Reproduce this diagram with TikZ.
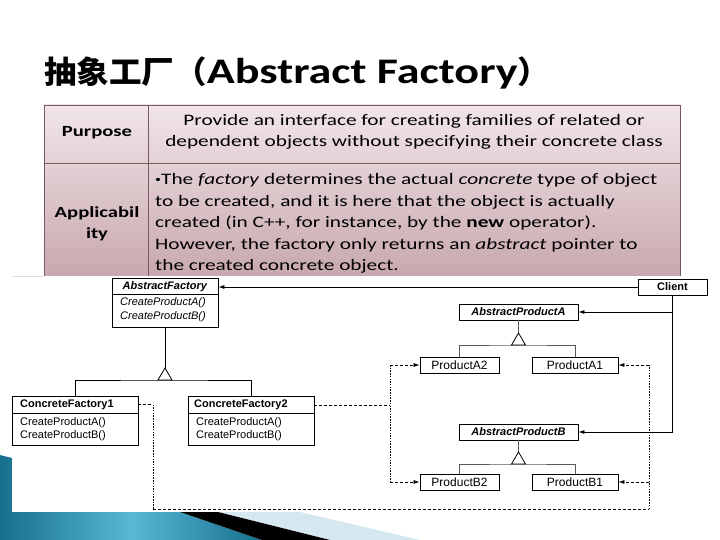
\documentclass[tikz,border=0pt]{standalone}
\usepackage{fontspec}
\setmainfont{Carlito}[FakeStretch=1.33,Ligatures={TeX,NoCommon}]
\newfontfamily\titlefont{Carlito}[FakeStretch=1.28,Ligatures={TeX,NoCommon}]
\newfontfamily\cjk{Noto Sans CJK SC}[FakeStretch=1.05]
\newfontfamily\umlfont{Liberation Sans}
\usetikzlibrary{arrows.meta}
\definecolor{tabtop}{HTML}{F1E6E8}
\definecolor{tabbot}{HTML}{C8A8AF}
\definecolor{tabline}{HTML}{7A5A62}
\definecolor{decodark}{HTML}{16708E}
\definecolor{decolight}{HTML}{58B8D6}
\definecolor{decopale}{HTML}{D5E8EF}

\begin{document}
\begin{tikzpicture}[x=1pt,y=-1pt,
  >={Latex[length=6pt,width=4pt]},
  cls/.style={draw,line width=0.9pt,fill=white,inner sep=0pt},
  txt/.style={font=\umlfont\fontsize{11}{12}\selectfont,inner sep=0pt},
  prod/.style={font=\umlfont\fontsize{12}{12}\selectfont},
  gen/.style={line width=0.8pt},
  dep/.style={dash pattern=on 3pt off 2pt,line width=0.7pt},
  col/.style={dash pattern=on 1.5pt off 1.2pt,line width=0.8pt},
  cell/.style={font=\fontsize{16}{21.5}\selectfont,inner sep=0pt}]
\useasboundingbox (0,0) rectangle (720,540);

%folija
\shade[left color=decodark,right color=decodark,middle color=decolight]
  (0,455) -- (12,458) -- (12,512) -- (180,512) -- (262,540) -- (0,540) -- cycle;
\fill[decopale] (218,512) -- (300,512) -- (420,540) -- (330,540) -- cycle;
\fill[black] (180,512) -- (218,512) -- (330,540) -- (262,540) -- cycle;

%naslov
\node[anchor=base west,inner sep=0pt] (title) at (44,84)
  {{\cjk\bfseries\fontsize{31}{31}\selectfont 抽象工厂（}{\titlefont\bfseries\fontsize{36}{36}\selectfont Abstract Factory}{\cjk\bfseries\fontsize{31}{31}\selectfont ）}};

%tabela
\shade[top color=tabtop,bottom color=tabbot] (44,105) rectangle (680,276);
\draw[tabline,line width=0.8pt] (44,276) -- (44,105) -- (680,105) -- (680,276);
\draw[tabline,line width=0.8pt] (44,163) -- (680,163);
\draw[tabline,line width=0.8pt] (148,105) -- (148,276);
\node[cell,font=\bfseries\fontsize{15.5}{21.5}\selectfont] (purpose) at (97,133) {Purpose};
\node[cell,align=center] (purposetext) at (414,132)
  {Provide an interface for creating families of related or\\
   dependent objects without specifying their concrete class};
\node[cell,font=\bfseries\fontsize{15.5}{21.5}\selectfont,align=center] (appl) at (97,224) {Applicabil\\ity};
\node[cell,align=left,anchor=west] (appltext) at (155,223.5)
  {{\fontsize{9}{9}\selectfont\raisebox{2pt}{•}}The \textit{factory} determines the actual \textit{concrete} type of object\\
   to be created, and it is here that the object is actually\\
   created (in C++, for instance, by the \textbf{new} operator).\\
   However, the factory only returns an \textit{abstract} pointer to\\
   the created concrete object.};

%slika
\fill[white] (12,276) rectangle (708,512);
\draw[gray!25] (12,276) -- (44,276);

%razredi
\node[cls,minimum width=106pt,minimum height=49pt] (af) at (165,302.5) {};
\draw[line width=0.7pt] ([yshift=-17pt]af.north west) -- ([yshift=-17pt]af.north east);
\node[txt] (aftitle) at (165,287) {\textbf{\textit{AbstractFactory}}};
\node[txt,anchor=west] (afa) at (120,303) {\textit{CreateProductA()}};
\node[txt,anchor=west] (afb) at (120,317) {\textit{CreateProductB()}};

\node[cls,minimum width=126pt,minimum height=49pt] (cf1) at (75,420.5) {};
\draw[line width=0.7pt] ([yshift=-18pt]cf1.north west) -- ([yshift=-18pt]cf1.north east);
\node[txt,anchor=west] (cf1title) at (20,405) {\textbf{ConcreteFactory1}};
\node[txt,anchor=west] (cf1a) at (20,423) {CreateProductA()};
\node[txt,anchor=west] (cf1b) at (20,436) {CreateProductB()};

\node[cls,minimum width=126pt,minimum height=49pt] (cf2) at (251,420.5) {};
\draw[line width=0.7pt] ([yshift=-18pt]cf2.north west) -- ([yshift=-18pt]cf2.north east);
\node[txt,anchor=west] (cf2title) at (194,405) {\textbf{ConcreteFactory2}};
\node[txt,anchor=west] (cf2a) at (196,423) {CreateProductA()};
\node[txt,anchor=west] (cf2b) at (196,436) {CreateProductB()};

\node[cls,txt,draw,minimum width=69pt,minimum height=16pt] (client) at (672.5,287) {\textbf{Client}};
\node[cls,txt,draw,minimum width=119pt,minimum height=16pt] (apa) at (518.5,312) {\textbf{\textit{AbstractProductA}}};
\node[cls,txt,draw,minimum width=119pt,minimum height=16pt] (apb) at (518.5,432) {\textbf{\textit{AbstractProductB}}};
\node[cls,txt,prod,minimum width=79pt,minimum height=16pt] (pa2) at (459.5,365) {ProductA2};
\node[cls,txt,prod,minimum width=86pt,minimum height=16pt] (pa1) at (575,365) {ProductA1};
\node[cls,txt,prod,minimum width=79pt,minimum height=16pt] (pb2) at (459.5,482) {ProductB2};
\node[cls,txt,prod,minimum width=86pt,minimum height=16pt] (pb1) at (575,482) {ProductB1};

%dedovanje
\coordinate (afbase) at (165,380);
\coordinate (pabase) at (518.5,345);
\coordinate (pbbase) at (518.5,464);
\draw[gen] (cf1.north) |- (afbase) -| (cf2.north);
\draw[gen] (af.south) -- (af.south |- 0,368);
\draw[gen,fill=white] (afbase) +(-7,0) -- +(0,-12) -- +(7,0) -- cycle;
\draw[gen,gray!70!black] (pa2.north) |- (pabase) -| (pa1.north);
\draw[gen,gray!70!black,line width=1.2pt] (apa.south) -- (apa.south |- 0,333);
\draw[gen,fill=white] (pabase) +(-7,0) -- +(0,-12) -- +(7,0) -- cycle;
\draw[gen,gray!70!black] (pb2.north) |- (pbbase) -| (pb1.north);
\draw[gen,gray!70!black,line width=1.2pt] (apb.south) -- (apb.south |- 0,452);
\draw[gen,fill=white] (pbbase) +(-7,0) -- +(0,-12) -- +(7,0) -- cycle;

%client
\draw[gen,->] (client.west) -- (client.west -| af.east);
\draw[gen,->] (client.south) |- (apb.east);
\draw[gen,->] (client.south |- apa.east) -- (apa.east);

%ustvarjanje
\coordinate (f1bend) at (153,509);
\coordinate (f1bus) at (649,509);
\coordinate (f1a) at (649,365);
\coordinate (f1b) at (649,482);
\coordinate (f2a) at (390,365);
\coordinate (f2b) at (390,482);
\coordinate (f1out) at ([yshift=-9pt]cf1.north east);
\coordinate (f2out) at ([yshift=-10pt]cf2.north east);
\draw[dep] (f1out) -- (f1out -| f1bend);
\draw[col] (f1out -| f1bend) -- (f1bend);
\draw[dep] (f1bend) -- (f1bus);
\draw[col] (f1bus) -- (f1a);
\draw[dep,->] (f1a) -- (pa1.east);
\draw[dep,->] (f1b) -- (pb1.east);
\draw[dep] (f2out) -- (f2out -| f2a);
\draw[col] (f2a) -- (f2b);
\draw[dep,->] (f2a) -- (pa2.west);
\draw[dep,->] (f2b) -- (pb2.west);
\end{tikzpicture}
\end{document}
